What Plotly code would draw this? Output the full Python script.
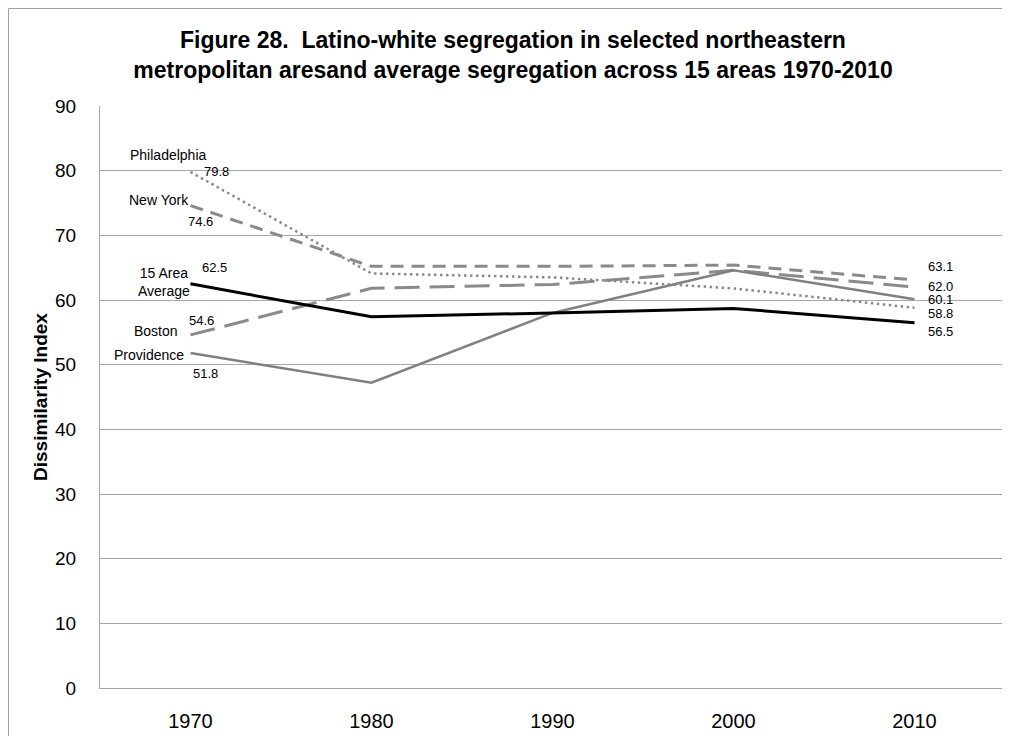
import plotly.graph_objects as go

years = ["1970", "1980", "1990", "2000", "2010"]
philadelphia = [79.8, 64.1, 63.5, 61.8, 58.8]
new_york = [74.6, 65.2, 65.2, 65.4, 63.1]
boston = [54.6, 61.8, 62.4, 64.6, 62.0]
providence = [51.8, 47.2, 58.0, 64.6, 60.1]
average = [62.5, 57.4, 58.0, 58.7, 56.5]
y_ticks = [0, 10, 20, 30, 40, 50, 60, 70, 80, 90]

FONT = "Liberation Sans"
series = [
    ("Philadelphia", philadelphia, dict(color="#8a8a8a", width=2.5, dash="2.5px,3.5px")),
    ("New York", new_york, dict(color="#8a8a8a", width=3, dash="13px,8px")),
    ("Boston", boston, dict(color="#8a8a8a", width=3, dash="25px,10px")),
    ("Providence", providence, dict(color="#808080", width=2.5)),
    ("15 Area Average", average, dict(color="#000000", width=3)),
]

fig = go.Figure()
for name, vals, line in series:
    fig.add_trace(go.Scatter(x=years, y=vals, mode="lines", name=name, line=line, showlegend=False))

first_idx = 0
last_idx = len(years) - 1

# left-side names and starting values: (name text, values, name shift, value shift)
left_labels = [
    ("Philadelphia", philadelphia, (-23, 17), (26, 0)),
    ("New York", new_york, (-32, 6), (10, -16)),
    ("15 Area<br>Average", average, (-27, 2), (24, 16)),
    ("Boston", boston, (-35, 4), (11, 14)),
    ("Providence", providence, (-42, -2), (15, -20)),
]
for text, vals, (nx, ny), (vx, vy) in left_labels:
    fig.add_annotation(x=first_idx, y=vals[0], text=text, showarrow=False, xshift=nx, yshift=ny,
                       font=dict(family=FONT, size=14, color="#000"))
    fig.add_annotation(x=first_idx, y=vals[0], text=f"{vals[0]:.1f}", showarrow=False, xshift=vx, yshift=vy,
                       font=dict(family=FONT, size=13, color="#000"))

right_labels = [(new_york, 13), (boston, 1), (providence, 0), (philadelphia, -6), (average, -9)]
for vals, ys in right_labels:
    fig.add_annotation(x=last_idx, y=vals[-1], text=f"{vals[-1]:.1f}", showarrow=False, xshift=26, yshift=ys,
                       font=dict(family=FONT, size=13, color="#000"))

# y-axis title
fig.add_annotation(xref="paper", yref="paper", x=-0.0663, y=0.5, xanchor="center", yanchor="middle",
                   text="<b>Dissimilarity Index</b>",
                   textangle=-90, showarrow=False, font=dict(family=FONT, size=19, color="#000"))

# outer chart border
fig.add_shape(type="rect", xref="paper", yref="paper", x0=-0.1011, y0=-0.3, x1=1.0044, y1=1.1675,
              line=dict(color="#a0a0a0", width=1), layer="below")

fig.update_layout(
    width=1010, height=736,
    margin=dict(l=92, r=13, t=98, b=56, autoexpand=False),
    paper_bgcolor="white", plot_bgcolor="white",
    title=dict(text="<b>Figure 28.  Latino-white segregation in selected northeastern<br>metropolitan aresand average segregation across 15 areas 1970-2010</b>",
               x=0.5, xref="container", xanchor="center", y=0.945, yanchor="top",
               font=dict(family=FONT, size=23, color="#000")),
    font=dict(family=FONT, color="#000"),
    xaxis=dict(type="category", range=[-0.5, 4.5], showgrid=False, showline=True, linecolor="#a6a6a6",
               linewidth=1, ticks="", tickfont=dict(size=20, color="#000"), ticklabelstandoff=15),
    yaxis=dict(range=[0, 90], tickvals=y_ticks, showgrid=True, gridcolor="#a6a6a6", gridwidth=1,
               showline=True, linecolor="#a6a6a6", linewidth=1, zeroline=False,
               ticks="", tickfont=dict(size=19, color="#000"), ticklabelstandoff=19),
)

fig.write_html("out.html")
